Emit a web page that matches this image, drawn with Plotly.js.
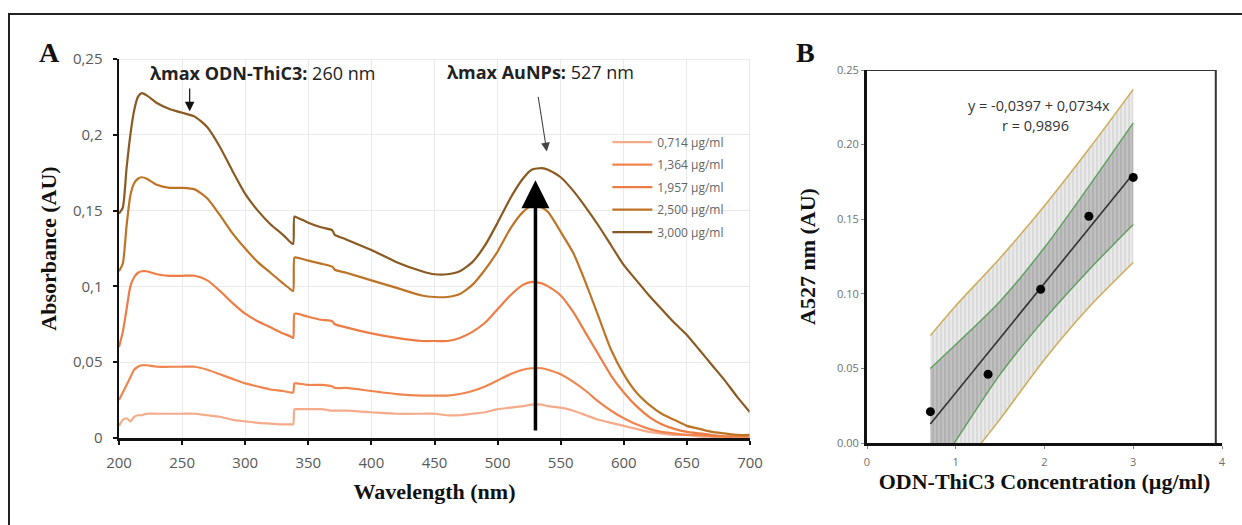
<!DOCTYPE html>
<html>
<head>
<meta charset="utf-8">
<script src="https://cdn.plot.ly/plotly-3.0.1.min.js"></script>
<style>
  html, body { margin: 0; padding: 0; background: #fff; }
  #chart { width: 1242px; height: 525px; }
</style>
</head>
<body>
<div id="chart"></div>
<script>
// ---------- Panel A: UV-Vis spectra ----------
const wavelength = [200,203,206,209,212,215,218,222,230,240,250,260,270,280,290,300,310,320,330,336,338,339,341,350,360,369,371,380,400,420,440,450,460,470,480,490,500,510,520,527,535,540,550,560,570,580,590,600,610,620,630,640,650,660,670,680,690,700];

const seriesNames = ["0,714 µg/ml", "1,364 µg/ml", "1,957 µg/ml", "2,500 µg/ml", "3,000 µg/ml"];
const seriesColors = ["#F5AA8A", "#F0854F", "#EE7C45", "#BE7426", "#8A5A22"];

const abs0714 = [0.008,0.012,0.013,0.011,0.014,0.015,0.015,0.016,0.016,0.016,0.016,0.016,0.015,0.014,0.012,0.011,0.010,0.0095,0.009,0.009,0.009,0.019,0.019,0.019,0.019,0.018,0.018,0.018,0.017,0.016,0.016,0.016,0.015,0.015,0.016,0.017,0.019,0.020,0.021,0.022,0.022,0.021,0.020,0.018,0.015,0.012,0.010,0.008,0.006,0.004,0.003,0.002,0.002,0.001,0.001,0.001,0.001,0.001];
const abs1364 = [0.025,0.030,0.035,0.040,0.045,0.047,0.048,0.048,0.047,0.047,0.047,0.047,0.045,0.042,0.039,0.036,0.034,0.032,0.031,0.030,0.030,0.036,0.036,0.035,0.035,0.034,0.033,0.033,0.031,0.029,0.028,0.028,0.028,0.029,0.031,0.034,0.038,0.042,0.045,0.046,0.046,0.045,0.042,0.037,0.031,0.024,0.018,0.013,0.009,0.006,0.004,0.003,0.002,0.002,0.001,0.001,0.001,0.001];
const abs1957 = [0.060,0.070,0.085,0.100,0.106,0.109,0.110,0.110,0.108,0.107,0.107,0.107,0.104,0.097,0.089,0.082,0.077,0.073,0.069,0.067,0.066,0.082,0.082,0.080,0.078,0.077,0.075,0.073,0.069,0.066,0.064,0.064,0.064,0.066,0.070,0.076,0.085,0.094,0.101,0.103,0.102,0.100,0.094,0.083,0.069,0.055,0.041,0.030,0.021,0.014,0.009,0.006,0.004,0.003,0.002,0.001,0.001,0.001];
const abs2500 = [0.110,0.115,0.140,0.160,0.168,0.171,0.172,0.171,0.167,0.165,0.165,0.164,0.158,0.147,0.135,0.125,0.116,0.109,0.102,0.098,0.097,0.119,0.119,0.117,0.115,0.113,0.111,0.109,0.104,0.099,0.094,0.093,0.093,0.095,0.101,0.111,0.123,0.138,0.149,0.153,0.152,0.149,0.136,0.122,0.102,0.080,0.058,0.042,0.030,0.022,0.016,0.012,0.008,0.006,0.004,0.003,0.002,0.002];
const abs3000 = [0.148,0.152,0.178,0.200,0.216,0.225,0.2275,0.226,0.221,0.217,0.2145,0.212,0.205,0.192,0.176,0.161,0.150,0.141,0.134,0.129,0.128,0.146,0.1455,0.142,0.139,0.137,0.134,0.131,0.124,0.116,0.110,0.108,0.108,0.110,0.116,0.127,0.142,0.158,0.171,0.177,0.178,0.177,0.172,0.163,0.152,0.140,0.127,0.114,0.104,0.094,0.085,0.076,0.068,0.058,0.048,0.038,0.027,0.017];
const spectra = [abs0714, abs1364, abs1957, abs2500, abs3000];

const yTicksA = [0, 0.05, 0.1, 0.15, 0.2, 0.25];
const yTickTextA = ["0", "0,05", "0,1", "0,15", "0,2", "0,25"];
const xTicksA = [200, 250, 300, 350, 400, 450, 500, 550, 600, 650, 700];

// annotation anchors (data values)
const peakOdn = 260;       // λmax ODN-ThiC3
const peakAu = 527;        // λmax AuNPs

// ---------- Panel B: calibration ----------
const concentration = [0.714, 1.364, 1.957, 2.5, 3.0];
const a527 = [0.021, 0.046, 0.103, 0.152, 0.178];
const bandX = [0.714, 1.0, 1.5, 2.0, 2.5, 3.0];
const fitY = [0.0127, 0.0337, 0.0704, 0.1071, 0.1438, 0.1805];
const ciUpper = [0.050, 0.066, 0.095, 0.131, 0.172, 0.2145];
const ciLower = [-0.024, 0.0015, 0.046, 0.083, 0.116, 0.1465];
const piUpper = [0.072, 0.092, 0.124, 0.159, 0.197, 0.237];
const piLower = [-0.047, -0.022, 0.016, 0.056, 0.091, 0.121];
const yTicksB = [0, 0.05, 0.10, 0.15, 0.20, 0.25];
const yTickTextB = ["0.00", "0.05", "0.10", "0.15", "0.20", "0.25"];
const xTicksB = [0, 1, 2, 3, 4];

const traces = [];
spectra.forEach((s, i) => {
  traces.push({
    x: wavelength, y: s, type: 'scatter', mode: 'lines',
    name: seriesNames[i], legendgroup: 'g' + i,
    line: { color: seriesColors[i], width: 2.2, shape: 'spline', smoothing: 0.6 },
    xaxis: 'x', yaxis: 'y', hoverinfo: 'skip'
  });
});

// Prediction band (outer, tan)
traces.push({ x: bandX, y: piLower, type: 'scatter', mode: 'lines', xaxis: 'x2', yaxis: 'y2',
  line: { color: '#CDAE5C', width: 1.6, shape: 'spline', smoothing: 0.8 }, showlegend: false, hoverinfo: 'skip' });
traces.push({ x: bandX, y: piUpper, type: 'scatter', mode: 'lines', xaxis: 'x2', yaxis: 'y2',
  line: { color: '#CDAE5C', width: 1.6, shape: 'spline', smoothing: 0.8 }, fill: 'tonexty', fillcolor: '#E6E6E6',
  fillpattern: { shape: '|', bgcolor: '#E9E9E9', fgcolor: '#D6D6D6', size: 4, solidity: 0.35 },
  showlegend: false, hoverinfo: 'skip' });
// Confidence band (inner, green)
traces.push({ x: bandX, y: ciLower, type: 'scatter', mode: 'lines', xaxis: 'x2', yaxis: 'y2',
  line: { color: '#5E9E5E', width: 1.4, shape: 'spline', smoothing: 0.8 }, showlegend: false, hoverinfo: 'skip' });
traces.push({ x: bandX, y: ciUpper, type: 'scatter', mode: 'lines', xaxis: 'x2', yaxis: 'y2',
  line: { color: '#5E9E5E', width: 1.4, shape: 'spline', smoothing: 0.8 }, fill: 'tonexty', fillcolor: '#BDBDBD',
  fillpattern: { shape: '|', bgcolor: '#C0C0C0', fgcolor: '#ABABAB', size: 4, solidity: 0.35 },
  showlegend: false, hoverinfo: 'skip' });
// Fit line
traces.push({ x: bandX, y: fitY, type: 'scatter', mode: 'lines', xaxis: 'x2', yaxis: 'y2',
  line: { color: '#333333', width: 1.6 }, showlegend: false, hoverinfo: 'skip' });
// Points
traces.push({ x: concentration, y: a527, type: 'scatter', mode: 'markers', xaxis: 'x2', yaxis: 'y2',
  marker: { color: '#000', size: 9 }, showlegend: false, hoverinfo: 'skip' });

const tickFontA = { family: 'Open Sans, sans-serif', size: 15, color: '#595959' };
const tickFontB = { family: 'Open Sans, sans-serif', size: 11, color: '#707070' };
const titleFont = { family: 'Liberation Serif, Times New Roman, serif', size: 22, color: '#111' };

const layout = {
  width: 1242, height: 525,
  margin: { l: 0, r: 0, t: 0, b: 0 },
  paper_bgcolor: '#fff', plot_bgcolor: 'rgba(0,0,0,0)',
  showlegend: true,
  legend: {
    x: 0.489, y: 0.757, xanchor: 'left', yanchor: 'top',
    font: { family: 'Open Sans, sans-serif', size: 12, color: '#666' },
    bgcolor: 'rgba(255,255,255,0)', tracegroupgap: 3.5, itemwidth: 40
  },
  xaxis: {
    domain: [119/1242, 750/1242], range: [200, 700], anchor: 'y',
    tickvals: xTicksA, ticktext: xTicksA.map(String), tickfont: tickFontA,
    showgrid: true, gridcolor: '#EAEAEA', gridwidth: 1, zeroline: false,
    showline: true, linecolor: '#111', linewidth: 2.5,
    ticks: 'outside', ticklen: 4, tickwidth: 2, tickcolor: '#111', ticklabelstandoff: 5,
    title: { text: '<b>Wavelength (nm)</b>', font: titleFont, standoff: 13 }
  },
  yaxis: {
    domain: [1 - 438/525, 1 - 59/525], range: [0, 0.25], anchor: 'x',
    tickvals: yTicksA, ticktext: yTickTextA, tickfont: tickFontA,
    showgrid: true, gridcolor: '#EAEAEA', gridwidth: 1, zeroline: false,
    showline: true, linecolor: '#111', linewidth: 2.5,
    ticks: 'outside', ticklen: 4, tickwidth: 2, tickcolor: '#111', ticklabelstandoff: 7,
    title: { text: '<b>Absorbance (AU)</b>', font: titleFont, standoff: 10 }
  },
  xaxis2: {
    domain: [867/1242, 1222/1242], range: [0, 4], anchor: 'y2',
    tickvals: xTicksB, ticktext: xTicksB.map(String), tickfont: tickFontB,
    showgrid: false, zeroline: false,
    showline: true, linecolor: '#111', linewidth: 3,
    ticks: 'outside', ticklen: 3, tickwidth: 1, tickcolor: '#888', ticklabelstandoff: 4,
    title: { text: '<b>ODN-ThiC3 Concentration (µg/ml)</b>', font: titleFont, standoff: 4 }
  },
  yaxis2: {
    domain: [1 - 443/525, 1 - 70/525], range: [0, 0.25], anchor: 'x2',
    tickvals: yTicksB, ticktext: yTickTextB, tickfont: tickFontB,
    showgrid: false, zeroline: false,
    showline: true, linecolor: '#111', linewidth: 3,
    ticks: 'outside', ticklen: 3, tickwidth: 1, tickcolor: '#888',
    title: { text: '<b>A527 nm (AU)</b>', font: titleFont, standoff: 16 }
  },
  shapes: [
    // outer figure border
    { type: 'rect', xref: 'paper', yref: 'paper', x0: 9/1242, x1: 1.05, y0: -0.05, y1: 1 - 14/525,
      line: { color: '#222', width: 2 }, fillcolor: 'rgba(0,0,0,0)', layer: 'below' },
    // panel A light frame top/right
    { type: 'line', xref: 'x', yref: 'y', x0: 200, x1: 700, y0: 0.25, y1: 0.25, line: { color: '#D9D9D9', width: 1.2 } },
    { type: 'line', xref: 'x', yref: 'y', x0: 700, x1: 700, y0: 0, y1: 0.25, line: { color: '#D9D9D9', width: 1.2 } },
    // panel B frame top/right
    { type: 'line', xref: 'x2', yref: 'y2', x0: 0, x1: 3.93, y0: 0.25, y1: 0.25, line: { color: '#333', width: 2 } },
    { type: 'line', xref: 'x2', yref: 'y2', x0: 3.93, x1: 3.93, y0: 0, y1: 0.25, line: { color: '#333', width: 2 } }
  ],
  annotations: [
    { xref: 'paper', yref: 'paper', x: 49/1242, y: 1 - 52/525, xanchor: 'center', yanchor: 'middle',
      text: '<b>A</b>', showarrow: false, font: { family: 'Liberation Serif, serif', size: 28, color: '#111' } },
    { xref: 'paper', yref: 'paper', x: 805/1242, y: 1 - 53/525, xanchor: 'center', yanchor: 'middle',
      text: '<b>B</b>', showarrow: false, font: { family: 'Liberation Serif, serif', size: 28, color: '#111' } },
    { xref: 'x', yref: 'y', x: 314, y: 0.2408, text: '<b>λmax ODN-ThiC3:</b> ' + peakOdn + ' nm', showarrow: false,
      font: { family: 'Open Sans, sans-serif', size: 18, color: '#222' } },
    { xref: 'x', yref: 'y', x: 534, y: 0.2415, text: '<b>λmax AuNPs:</b> ' + peakAu + ' nm', showarrow: false,
      font: { family: 'Open Sans, sans-serif', size: 18, color: '#222' } },
    // small arrow to 260 nm shoulder
    { xref: 'x', yref: 'y', axref: 'x', ayref: 'y', x: 256, y: 0.2155, ax: 256, ay: 0.2315, text: '',
      showarrow: true, arrowhead: 2, arrowsize: 1.6, arrowwidth: 1.2, arrowcolor: '#111' },
    // thin arrow to AuNP peak
    { xref: 'x', yref: 'y', axref: 'x', ayref: 'y', x: 539, y: 0.189, ax: 532, ay: 0.226, text: '',
      showarrow: true, arrowhead: 2, arrowsize: 1.6, arrowwidth: 1.1, arrowcolor: '#444' },
    // big vertical arrow (increasing concentration)
    { xref: 'x', yref: 'y', axref: 'x', ayref: 'y', x: 530, y: 0.170, ax: 530, ay: 0.004, text: '',
      showarrow: true, arrowhead: 2, arrowsize: 1.6, arrowwidth: 3.5, arrowcolor: '#000' },
    // regression equation
    { xref: 'x2', yref: 'y2', x: 1.94, y: 0.2265, text: 'y = -0,0397 + 0,0734x', showarrow: false,
      font: { family: 'Open Sans, sans-serif', size: 14.5, color: '#333' } },
    { xref: 'x2', yref: 'y2', x: 1.90, y: 0.2125, text: 'r = 0,9896', showarrow: false,
      font: { family: 'Open Sans, sans-serif', size: 14.5, color: '#333' } }
  ]
};

Plotly.newPlot('chart', traces, layout, { staticPlot: true, displayModeBar: false });
</script>
</body>
</html>
